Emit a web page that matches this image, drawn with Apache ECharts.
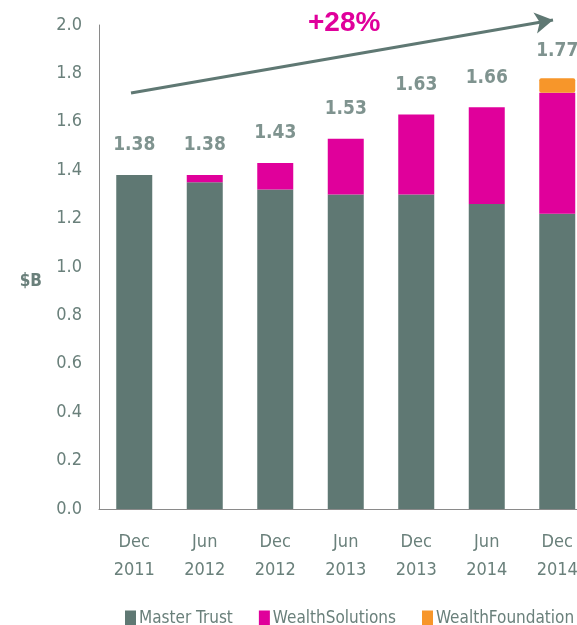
<!DOCTYPE html>
<html>
<head>
<meta charset="utf-8">
<script src="https://cdn.jsdelivr.net/npm/echarts@6/dist/echarts.min.js"></script>
<style>
  html, body { margin: 0; padding: 0; overflow: hidden; background: #fff; }
  #chart { width: 720px; height: 625px; }
</style>
</head>
<body>
<div id="chart"></div>
<script>
// periods on the x axis
const categories = ['Dec\n2011', 'Jun\n2012', 'Dec\n2012', 'Jun\n2013', 'Dec\n2013', 'Jun\n2014', 'Dec\n2014']
// $B by product (stacked)
const masterTrust = [1.38, 1.35, 1.32, 1.30, 1.30, 1.26, 1.22]
const wealthSolutions = [0, 0.03, 0.11, 0.23, 0.33, 0.40, 0.50]
const wealthFoundation = [0, 0, 0, 0, 0, 0, 0.06]
// total labels above bars
const totals = [1.38, 1.38, 1.43, 1.53, 1.63, 1.66, 1.77]
const totalLabels = ['1.38', '1.38', '1.43', '1.53', '1.63', '1.66', '1.77']

const GREY = '#5f7873'
const PINK = '#e0009b'
const ORANGE = '#f7962a'
const TEXT = '#6a807b'
const FONT = "'DejaVu Sans Condensed', 'Liberation Sans Narrow', sans-serif"

const chart = echarts.init(document.getElementById('chart'))

chart.setOption({
  animation: false,
  textStyle: { fontFamily: FONT },
  title: {
    text: '+28%',
    left: 303,
    top: 4,
    textStyle: { color: PINK, fontSize: 28, fontWeight: 'bold', fontFamily: "'Liberation Sans', sans-serif" },
  },
  legend: {
    left: 120,
    top: 605,
    itemWidth: 11,
    itemHeight: 16,
    itemGap: 26,
    icon: 'rect',
    textStyle: { color: TEXT, fontSize: 17, fontFamily: FONT, padding: [0, 0, 0, -2] },
    data: ['Master Trust', 'WealthSolutions', 'WealthFoundation'],
  },
  grid: { left: 99, right: 127.5, top: 25, bottom: 116 },
  xAxis: {
    type: 'category',
    data: categories,
    axisTick: { show: false },
    axisLine: { lineStyle: { color: '#8a8a8a', width: 1 } },
    axisLabel: { color: TEXT, fontSize: 18, lineHeight: 28, margin: 19, fontFamily: FONT },
  },
  yAxis: {
    type: 'value',
    min: 0,
    max: 2,
    interval: 0.2,
    name: '$B',
    nameLocation: 'middle',
    nameRotate: 0,
    nameGap: 57,
    nameTextStyle: { color: TEXT, fontSize: 17, fontWeight: 'bold', verticalAlign: 'top', padding: [6, 0, 0, 0], fontFamily: FONT },
    axisLine: { show: true, lineStyle: { color: '#8a8a8a', width: 1 } },
    axisTick: { show: false },
    splitLine: { show: false },
    axisLabel: { color: TEXT, fontSize: 18, margin: 17, formatter: (v) => v.toFixed(1), fontFamily: FONT },
  },
  series: [
    {
      name: 'Master Trust',
      type: 'bar',
      stack: 'total',
      barWidth: 36,
      data: masterTrust,
      itemStyle: { color: GREY },
    },
    {
      name: 'WealthSolutions',
      type: 'bar',
      stack: 'total',
      barWidth: 36,
      data: wealthSolutions,
      itemStyle: { color: PINK },
    },
    {
      name: 'WealthFoundation',
      type: 'bar',
      stack: 'total',
      barWidth: 36,
      data: wealthFoundation,
      itemStyle: { color: ORANGE, borderRadius: 2 },
    },
    {
      name: 'total',
      type: 'scatter',
      symbolSize: 0,
      data: totals,
      silent: true,
      label: {
        show: true,
        position: 'top',
        distance: 20,
        color: GREY,
        fontSize: 19,
        fontWeight: 'bold',
        fontFamily: FONT,
        formatter: (p) => totalLabels[p.dataIndex],
      },
      markLine: {
        silent: true,
        symbol: ['none', 'arrow'],
        symbolSize: [16, 18],
        label: { show: false },
        lineStyle: { color: GREY, width: 3, type: 'solid' },
        data: [[{ x: 131, y: 93 }, { x: 553, y: 20 }]],
      },
    },
  ],
})
</script>
</body>
</html>
